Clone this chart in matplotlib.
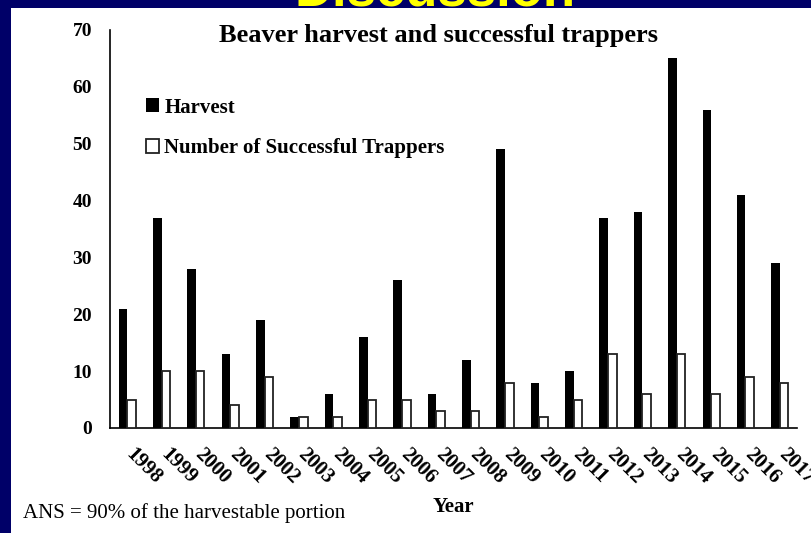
import matplotlib
matplotlib.use("Agg")
import matplotlib.pyplot as plt
from matplotlib.patches import Rectangle
from matplotlib.transforms import ScaledTranslation
import numpy as np

years = [str(y) for y in range(1998, 2018)]
harvest = [21, 37, 28, 13, 19, 2, 6, 16, 26, 6, 12, 49, 8, 10, 37, 38, 65, 56, 41, 29]
trappers = [5, 10, 10, 4, 9, 2, 2, 5, 5, 3, 3, 8, 2, 5, 13, 6, 13, 6, 9, 8]

plt.rcParams['font.family'] = ['Liberation Serif', 'DejaVu Serif']

navy = '#000068'
fig = plt.figure(figsize=(8.12, 5.33), dpi=100, facecolor=navy)
# white slide area
fig.add_artist(Rectangle((11 / 812, 0), 1, 1 - 8 / 533, transform=fig.transFigure,
                         facecolor='white', edgecolor='none', zorder=0))

ax = fig.add_axes([110 / 812, 1 - 428 / 533, 687 / 812, 398 / 533])
ax.set_facecolor('none')

x = np.arange(len(years))
w = 0.25
ax.bar(x - w / 2, harvest, w, color='black', label='Harvest', zorder=3)
ax.bar(x + w / 2, trappers, w, color='white', edgecolor='#222222', linewidth=1.3,
       label='Number of Successful Trappers', zorder=3)

ax.set_xlim(-0.5, len(years) - 0.5)
ax.set_ylim(0, 70)
ax.set_yticks(range(0, 71, 10))
ax.set_xticks(x)
ax.set_xticklabels(years, rotation=-45, ha='left', va='top',
                   fontsize=15, fontweight='bold')
for lab in ax.get_yticklabels():
    lab.set_fontweight('bold')
    lab.set_fontsize(14)
ax.tick_params(axis='y', length=0, pad=13)
ax.tick_params(axis='x', length=0, pad=12)
# nudge the slanted year labels a little to the left
shift = ScaledTranslation(-5 / 100, 0, fig.dpi_scale_trans)
for lab in ax.get_xticklabels():
    lab.set_transform(lab.get_transform() + shift)

for s in ['top', 'right']:
    ax.spines[s].set_visible(False)
for s in ['left', 'bottom']:
    ax.spines[s].set_linewidth(1.2)
    ax.spines[s].set_color('black')

ax.legend(loc='upper left', bbox_to_anchor=(0.052, 0.83), frameon=False,
          borderpad=0, borderaxespad=0, handlelength=0.65, handleheight=0.65,
          handletextpad=0.25, labelspacing=1.0,
          prop={'weight': 'bold', 'size': 15})

fig.text(439 / 812, 1 - 42 / 533, 'Beaver harvest and successful trappers',
         ha='center', va='baseline', fontsize=19, fontweight='bold')
fig.text(453 / 812, 1 - 512 / 533, 'Year', ha='center', va='baseline',
         fontsize=15, fontweight='bold')
fig.text(23 / 812, 1 - 518 / 533, 'ANS = 90% of the harvestable portion',
         ha='left', va='baseline', fontsize=15)
fig.text(435 / 812, 1 - 5 / 533, 'Discussion', ha='center', va='baseline',
         fontsize=38, fontweight='bold', color='#ffff00', family='Liberation Sans')

fig.savefig('out.png', dpi=100, facecolor=navy)
